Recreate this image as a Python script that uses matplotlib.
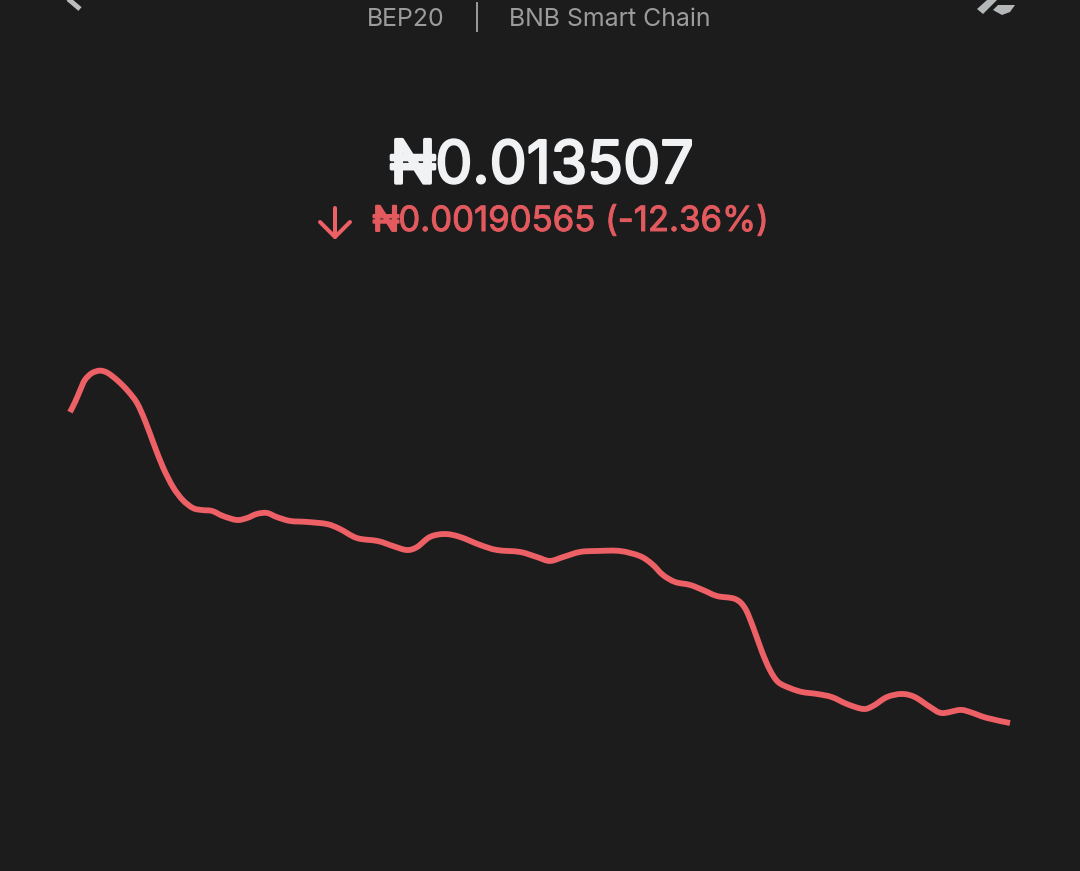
import matplotlib
matplotlib.use("Agg")
import matplotlib.pyplot as plt
import matplotlib.patheffects as pe
from matplotlib.patches import Polygon, PathPatch
from matplotlib.path import Path

# --- data ---
hours = [0, .13, .26, .38, .56, .77, .97, 1.23, 1.48, 1.71, 1.91, 2.12, 2.37, 2.63, 2.88, 3.14,
         3.37, 3.63, 3.91, 4.26, 4.52, 4.77, 5.03, 5.28, 5.62, 6.05, 6.56, 6.89, 7.33, 7.86,
         8.25, 8.60, 8.86, 9.19, 9.57, 9.96, 10.47, 10.90, 11.49, 11.92, 12.25, 12.59, 13.02,
         13.45, 14.04, 14.55, 14.86, 15.14, 15.45, 15.83, 16.16, 16.52, 16.98, 17.23, 17.44,
         17.67, 17.87, 18.08, 18.38, 18.69, 19.07, 19.45, 19.84, 20.25, 20.50, 20.86, 21.24,
         21.57, 21.96, 22.26, 22.72, 22.98, 23.41, 24]
micro_price = [15412, 15474, 15547, 15609, 15651, 15666, 15651, 15602, 15541, 15468, 15363, 15229,
               15076, 14953, 14873, 14824, 14812, 14806, 14775, 14751, 14763, 14788, 14794, 14769,
               14745, 14739, 14726, 14696, 14640, 14622, 14591, 14567, 14585, 14647, 14665, 14647,
               14598, 14567, 14555, 14524, 14500, 14524, 14555, 14561, 14561, 14530, 14481, 14414,
               14371, 14353, 14322, 14285, 14267, 14212, 14095, 13942, 13832, 13758, 13721, 13697,
               13685, 13666, 13623, 13593, 13611, 13666, 13685, 13666, 13605, 13568, 13587, 13574,
               13538, 13507]
currency = "₦"
price_text = "0.013507"
change_text = "0.00190565 (-12.36%)"
top_left = "BEP20"
top_right = "BNB Smart Chain"

W, H = 1080, 871
BG = "#1C1C1C"
RED = "#EC6066"
plt.rcParams["font.family"] = ["Inter", "Noto Sans", "DejaVu Sans"]

fig = plt.figure(figsize=(W / 100, H / 100), dpi=100, facecolor=BG)


def smooth_path(xs, ys):
    """Curve through every reading, with Catmull-Rom tangents."""
    verts = [(xs[0], ys[0])]
    codes = [Path.MOVETO]
    n = len(xs)
    for i in range(n - 1):
        a, b = max(i - 1, 0), min(i + 2, n - 1)
        verts += [(xs[i] + (xs[i + 1] - xs[a]) / 6, ys[i] + (ys[i + 1] - ys[a]) / 6),
                  (xs[i + 1] - (xs[b] - xs[i]) / 6, ys[i + 1] - (ys[b] - ys[i]) / 6),
                  (xs[i + 1], ys[i + 1])]
        codes += [Path.CURVE4] * 3
    return Path(verts, codes)


# chart axes: x 70..1010 px, y 370..723 px
ax = fig.add_axes([70 / W, 1 - 723 / H, 940 / W, 353 / H])
ax.set_facecolor("none")
ax.add_patch(PathPatch(smooth_path(hours, micro_price), fill=False, edgecolor=RED, lw=4.2,
                       capstyle="butt", joinstyle="round", clip_on=False))
ax.set_xlim(0, 24)
ax.set_ylim(13507, 15670)
ax.axis("off")

# overlay in pixel coordinates for the header furniture
ov = fig.add_axes([0, 0, 1, 1], zorder=5)
ov.set_xlim(0, W)
ov.set_ylim(H, 0)
ov.axis("off")
ov.patch.set_alpha(0)

ov.text(405.5, 26, top_left, color="#9C9C9C", fontsize=17.9, ha="center", va="baseline")
ov.text(609.5, 26, top_right, color="#9C9C9C", fontsize=17.9, ha="center", va="baseline")
ov.plot([477, 477], [3, 31], color="#9C9C9C", lw=1.4)


def bold(color, w):
    return [pe.withStroke(linewidth=w, foreground=color)]


WHITE = "#F1F2F4"
SUB = "#E2595E"
ov.text(413, 183, currency, color=WHITE, fontsize=43, ha="center", va="baseline",
        path_effects=bold(WHITE, 2.4))
ov.text(564.5, 183, price_text, color=WHITE, fontsize=42.5, ha="center", va="baseline",
        path_effects=bold(WHITE, 1.6))
ov.text(386, 231, currency, color=SUB, fontsize=25, ha="center", va="baseline",
        path_effects=bold(SUB, 1.4))
ov.text(584, 231, change_text, color=SUB, fontsize=25, ha="center", va="baseline",
        path_effects=bold(SUB, 0.7))

ov.plot([335, 335], [208, 237], color=RED, lw=2.9, solid_capstyle="round")
ov.plot([320, 335, 350], [222, 237, 222], color=RED, lw=2.9,
        solid_capstyle="round", solid_joinstyle="round")

ov.plot([67, 80], [-2, 9], color="#BDBDBD", lw=3.5, solid_capstyle="butt", clip_on=True)
ov.add_patch(Polygon([(977, 9), (983, 14), (997, 0), (987, 0)], closed=True, color="#B5B8B8", lw=0))
ov.add_patch(Polygon([(993, 10), (998, 5), (1015, 5), (1010, 12), (1002, 15)], closed=True,
                     color="#B5B8B8", lw=0))

fig.savefig("out.png", dpi=100, facecolor=BG)
